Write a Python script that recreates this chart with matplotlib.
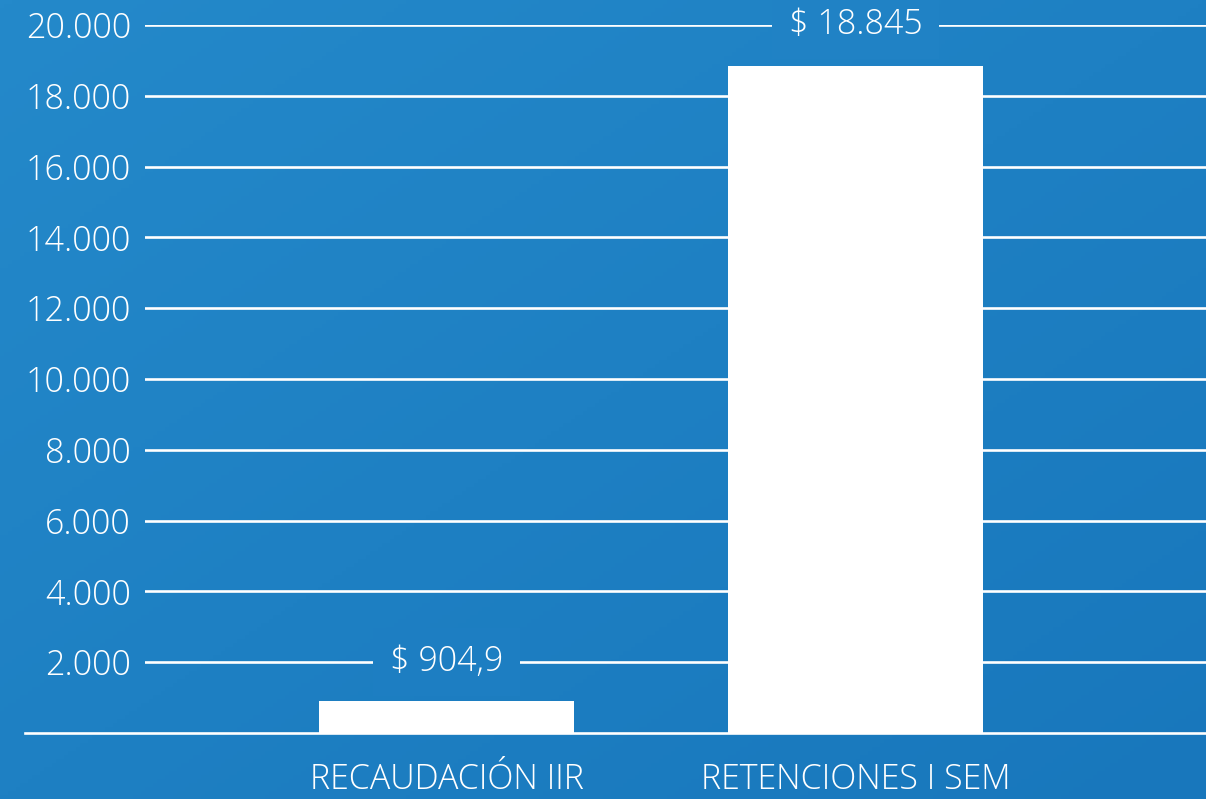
import numpy as np
import matplotlib.pyplot as plt
from matplotlib.colors import LinearSegmentedColormap

categories = ['RECAUDACIÓN IIR', 'RETENCIONES I SEM']
values = [904.9, 18845]
value_labels = ['$ 904,9', '$ 18.845']
label_levels = [2000, 20000]
yticks = [2000, 4000, 6000, 8000, 10000, 12000, 14000, 16000, 18000, 20000]
ytick_labels = ['2.000', '4.000', '6.000', '8.000', '10.000', '12.000',
                '14.000', '16.000', '18.000', '20.000']

plt.rcParams['font.family'] = ['Open Sans', 'DejaVu Sans']
plt.rcParams['font.weight'] = 'light'
FS = 24.5

fig = plt.figure(figsize=(12.06, 7.99), dpi=100)

# diagonal blue gradient background
cmap = LinearSegmentedColormap.from_list('bg', ['#2489ca', '#1877bc'])
bg = fig.add_axes([0, 0, 1, 1], zorder=-10)
gx, gy = np.meshgrid(np.linspace(0, 1, 300), np.linspace(0, 1, 200))
bg.imshow((gx + gy) / 2, cmap=cmap, aspect='auto', extent=[0, 1, 1, 0])
bg.axis('off')

ax_rect = [145 / 1206, 66 / 799, 1 - 145 / 1206, (733 - 25) / 799]
ax = fig.add_axes(ax_rect)
ax.patch.set_alpha(0)
x = np.arange(len(categories))
xmin, xmax = -0.737, 1.857
ax.set_xlim(xmin, xmax)
ax.set_ylim(0, 20000)

ax.set_yticks(yticks)
ax.set_yticklabels(ytick_labels)
ax.yaxis.grid(True, color='white', linewidth=1.9, zorder=0)
ax.set_axisbelow(True)
ax.tick_params(axis='y', length=0, pad=10, colors='white', labelsize=FS)
ax.tick_params(axis='x', length=0, pad=21, colors='white', labelsize=FS)
ax.set_xticks(x)
ax.set_xticklabels(categories)
for s in ax.spines.values():
    s.set_visible(False)

ax.bar(x, values, width=0.623, color='white', zorder=2)

# baseline extends to the left edge
ax.plot([-1.031, xmax], [0, 0], color='white', linewidth=1.9,
        clip_on=False, zorder=3)

# value labels sit on a gridline; box colour follows the gradient behind
for xi, lev, lab in zip(x, label_levels, value_labels):
    fx = ax_rect[0] + (xi - xmin) / (xmax - xmin) * ax_rect[2]
    fy_top = 1 - (ax_rect[1] + lev / 20000 * ax_rect[3])
    box_col = cmap((fx + fy_top) / 2)
    ax.text(xi, lev, lab, ha='center', va='center', color='white',
            fontsize=FS, zorder=4,
            bbox=dict(boxstyle='square,pad=0.5', facecolor=box_col,
                      edgecolor='none'))

fig.savefig('out.png', dpi=100)
